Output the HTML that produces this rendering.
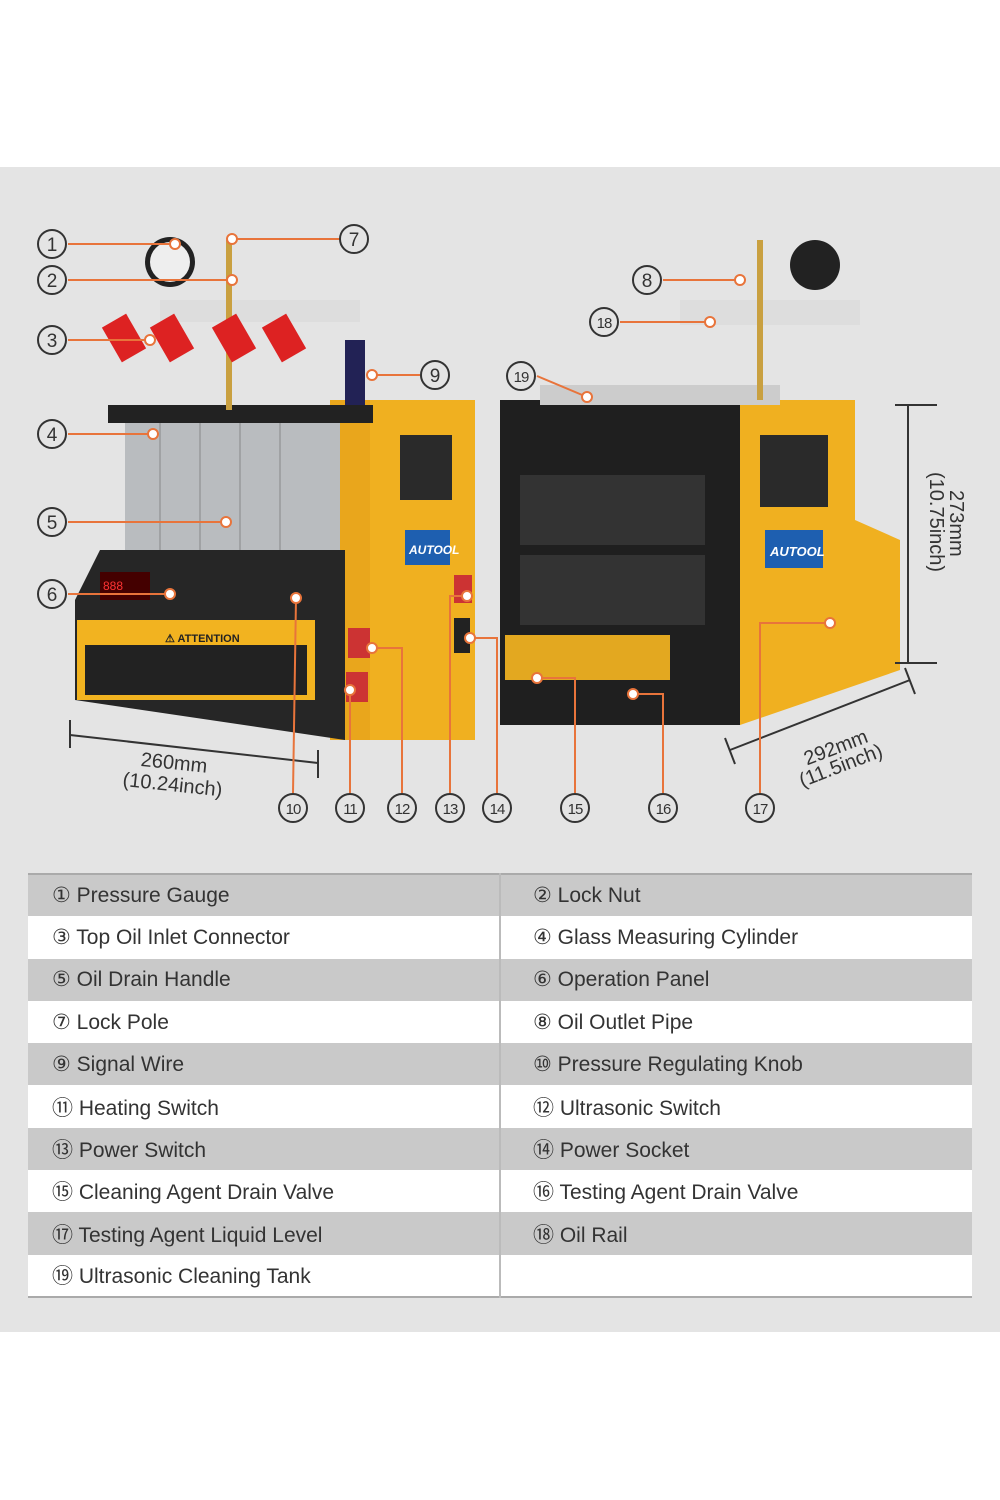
<!DOCTYPE html>
<html><head><meta charset="utf-8"><style>
body{margin:0;width:1000px;height:1500px;background:#fff;font-family:"Liberation Sans",sans-serif;position:relative;overflow:hidden}
.bg{position:absolute;left:0;top:167px;width:1000px;height:1165px;background:#e4e4e4}
table{position:absolute;left:28px;top:873px;width:944px;border-collapse:collapse;font-size:21px;color:#333}
td{height:42.3px;padding:0 0 0 24px;width:50%;box-sizing:border-box}
td+td{border-left:2px solid #bbb;padding-left:32px}
tr:nth-child(odd){background:#c9c9c9}
tr:nth-child(even){background:#fff}
table{border-bottom:2px solid #aaa;border-top:2px solid #aaa}
</style></head><body>
<div class="bg"></div>
<svg style="position:absolute;left:0;top:0" width="1000" height="1500" font-family="Liberation Sans,sans-serif">
<!-- left machine -->
<rect x="370" y="400" width="105" height="340" fill="#f0b020"/>
<polygon points="330,400 370,400 370,740 330,740" fill="#e9a61c"/>
<rect x="400" y="435" width="52" height="65" fill="#2a2a2a"/>
<rect x="405" y="530" width="45" height="35" fill="#1e5fb0"/>
<text x="409" y="554" font-size="12" fill="#fff" font-weight="bold" font-style="italic">AUTOOL</text>
<rect x="108" y="405" width="265" height="18" fill="#222"/>
<rect x="125" y="423" width="215" height="130" fill="#b9bcbf"/>
<g stroke="#888" stroke-width="1">
<line x1="160" y1="423" x2="160" y2="553"/><line x1="200" y1="423" x2="200" y2="553"/><line x1="240" y1="423" x2="240" y2="553"/><line x1="280" y1="423" x2="280" y2="553"/></g>
<polygon points="100,550 345,550 345,740 75,700 75,600" fill="#262626"/>
<rect x="77" y="620" width="238" height="80" fill="#f2b320"/>
<rect x="85" y="645" width="222" height="50" fill="#222"/>
<text x="165" y="642" font-size="11" font-weight="bold" fill="#222">⚠ ATTENTION</text>
<rect x="100" y="572" width="50" height="28" fill="#400" /><text x="103" y="590" font-size="12" fill="#f33">888</text>
<rect x="348" y="628" width="22" height="30" fill="#c33"/><rect x="346" y="672" width="22" height="30" fill="#c33"/>
<rect x="454" y="575" width="18" height="28" fill="#c33"/><rect x="454" y="618" width="16" height="35" fill="#222"/>
<circle cx="170" cy="262" r="25" fill="#222"/><circle cx="170" cy="262" r="20" fill="#eee"/>
<rect x="160" y="300" width="200" height="22" fill="#ddd"/>
<rect x="226" y="240" width="6" height="170" fill="#c9a040"/>
<g fill="#d22"><rect x="110" y="318" width="28" height="40" transform="rotate(-30 124 338)"/><rect x="158" y="318" width="28" height="40" transform="rotate(-30 172 338)"/><rect x="220" y="318" width="28" height="40" transform="rotate(-30 234 338)"/><rect x="270" y="318" width="28" height="40" transform="rotate(-30 284 338)"/></g>
<rect x="345" y="340" width="20" height="65" fill="#225"/>
<!-- right machine -->
<rect x="500" y="400" width="240" height="325" fill="#1f1f1f"/>
<polygon points="740,400 855,400 855,520 900,540 900,670 740,725" fill="#f0b020"/>
<rect x="760" y="435" width="68" height="72" fill="#2a2a2a"/>
<rect x="765" y="530" width="58" height="38" fill="#1e5fb0"/>
<text x="770" y="556" font-size="13" fill="#fff" font-weight="bold" font-style="italic">AUTOOL</text>
<rect x="520" y="475" width="185" height="70" fill="#333"/><rect x="520" y="555" width="185" height="70" fill="#333"/>
<rect x="540" y="385" width="240" height="20" fill="#ccc"/>
<rect x="505" y="635" width="165" height="45" fill="#e3a820"/>
<rect x="680" y="300" width="180" height="25" fill="#ddd"/>
<circle cx="815" cy="265" r="25" fill="#222"/>
<rect x="757" y="240" width="6" height="160" fill="#c9a040"/>
<!-- dimension lines -->
<g stroke="#333" stroke-width="2" fill="none">
<line x1="70" y1="735" x2="318" y2="763"/><line x1="70" y1="720" x2="70" y2="748"/><line x1="318" y1="750" x2="318" y2="778"/>
<line x1="908" y1="405" x2="908" y2="663"/><line x1="895" y1="405" x2="937" y2="405"/><line x1="895" y1="663" x2="937" y2="663"/>
<line x1="730" y1="750" x2="910" y2="680"/><line x1="725" y1="738" x2="735" y2="764"/><line x1="905" y1="668" x2="915" y2="694"/>
</g>
<g font-size="20" fill="#333">
<text x="140" y="770" transform="rotate(6 180 770)">260mm</text>
<text x="122" y="792" transform="rotate(6 180 790)">(10.24inch)</text>
<text x="800" y="752" transform="rotate(-21 840 740)">292mm</text>
<text x="795" y="772" transform="rotate(-21 840 760)">(11.5inch)</text>
<text x="950" y="490" transform="rotate(90 950 490)">273mm</text>
<text x="930" y="472" transform="rotate(90 930 472)">(10.75inch)</text>
</g>
<!-- callouts -->
<g stroke="#e8743b" stroke-width="2" fill="none">
<line x1="68" y1="244" x2="175" y2="244"/><line x1="68" y1="280" x2="232" y2="280"/><line x1="68" y1="340" x2="150" y2="340"/>
<line x1="68" y1="434" x2="153" y2="434"/><line x1="68" y1="522" x2="226" y2="522"/><line x1="68" y1="594" x2="170" y2="594"/>
<line x1="232" y1="239" x2="340" y2="239"/><line x1="372" y1="375" x2="420" y2="375"/>
<line x1="663" y1="280" x2="740" y2="280"/><line x1="620" y1="322" x2="710" y2="322"/><line x1="537" y1="376" x2="587" y2="397"/>
<polyline points="296,598 293,793"/><polyline points="350,690 350,793"/><polyline points="372,648 402,648 402,793"/>
<polyline points="467,596 450,596 450,793"/><polyline points="470,638 497,638 497,793"/>
<polyline points="537,678 575,678 575,793"/><polyline points="633,694 663,694 663,793"/><polyline points="830,623 760,623 760,793"/>
</g>
<g fill="#fff" stroke="#e8743b" stroke-width="2">
<circle cx="175" cy="244" r="5"/><circle cx="232" cy="280" r="5"/><circle cx="150" cy="340" r="5"/><circle cx="153" cy="434" r="5"/><circle cx="226" cy="522" r="5"/><circle cx="170" cy="594" r="5"/><circle cx="232" cy="239" r="5"/><circle cx="372" cy="375" r="5"/><circle cx="740" cy="280" r="5"/><circle cx="710" cy="322" r="5"/><circle cx="587" cy="397" r="5"/><circle cx="296" cy="598" r="5"/><circle cx="372" cy="648" r="5"/><circle cx="350" cy="690" r="5"/><circle cx="467" cy="596" r="5"/><circle cx="470" cy="638" r="5"/><circle cx="537" cy="678" r="5"/><circle cx="633" cy="694" r="5"/><circle cx="830" cy="623" r="5"/>
</g>
<g fill="none" stroke="#333" stroke-width="2">
<circle cx="52" cy="244" r="14"/><circle cx="52" cy="280" r="14"/><circle cx="52" cy="340" r="14"/><circle cx="52" cy="434" r="14"/><circle cx="52" cy="522" r="14"/><circle cx="52" cy="594" r="14"/><circle cx="354" cy="239" r="14"/><circle cx="435" cy="375" r="14"/><circle cx="647" cy="280" r="14"/><circle cx="604" cy="322" r="14"/><circle cx="521" cy="376" r="14"/>
<circle cx="293" cy="808" r="14"/><circle cx="350" cy="808" r="14"/><circle cx="402" cy="808" r="14"/><circle cx="450" cy="808" r="14"/><circle cx="497" cy="808" r="14"/><circle cx="575" cy="808" r="14"/><circle cx="663" cy="808" r="14"/><circle cx="760" cy="808" r="14"/>
</g>
<g font-size="19" fill="#333" text-anchor="middle">
<text x="52" y="251">1</text><text x="52" y="287">2</text><text x="52" y="347">3</text><text x="52" y="441">4</text><text x="52" y="529">5</text><text x="52" y="601">6</text><text x="354" y="246">7</text><text x="435" y="382">9</text><text x="647" y="287">8</text>
<g font-size="15" letter-spacing="-1"><text x="604" y="328">18</text><text x="521" y="382">19</text><text x="293" y="814">10</text><text x="350" y="814">11</text><text x="402" y="814">12</text><text x="450" y="814">13</text><text x="497" y="814">14</text><text x="575" y="814">15</text><text x="663" y="814">16</text><text x="760" y="814">17</text></g>
</g>
</svg>
<table>
<tr><td>① Pressure Gauge</td><td>② Lock Nut</td></tr>
<tr><td>③ Top Oil Inlet Connector</td><td>④ Glass Measuring Cylinder</td></tr>
<tr><td>⑤ Oil Drain Handle</td><td>⑥ Operation Panel</td></tr>
<tr><td>⑦ Lock Pole</td><td>⑧ Oil Outlet Pipe</td></tr>
<tr><td>⑨ Signal Wire</td><td>⑩ Pressure Regulating Knob</td></tr>
<tr><td>⑪ Heating Switch</td><td>⑫ Ultrasonic Switch</td></tr>
<tr><td>⑬ Power Switch</td><td>⑭ Power Socket</td></tr>
<tr><td>⑮ Cleaning Agent Drain Valve</td><td>⑯ Testing Agent Drain Valve</td></tr>
<tr><td>⑰ Testing Agent Liquid Level</td><td>⑱ Oil Rail</td></tr>
<tr><td>⑲ Ultrasonic Cleaning Tank</td><td></td></tr>
</table>
</body></html>
